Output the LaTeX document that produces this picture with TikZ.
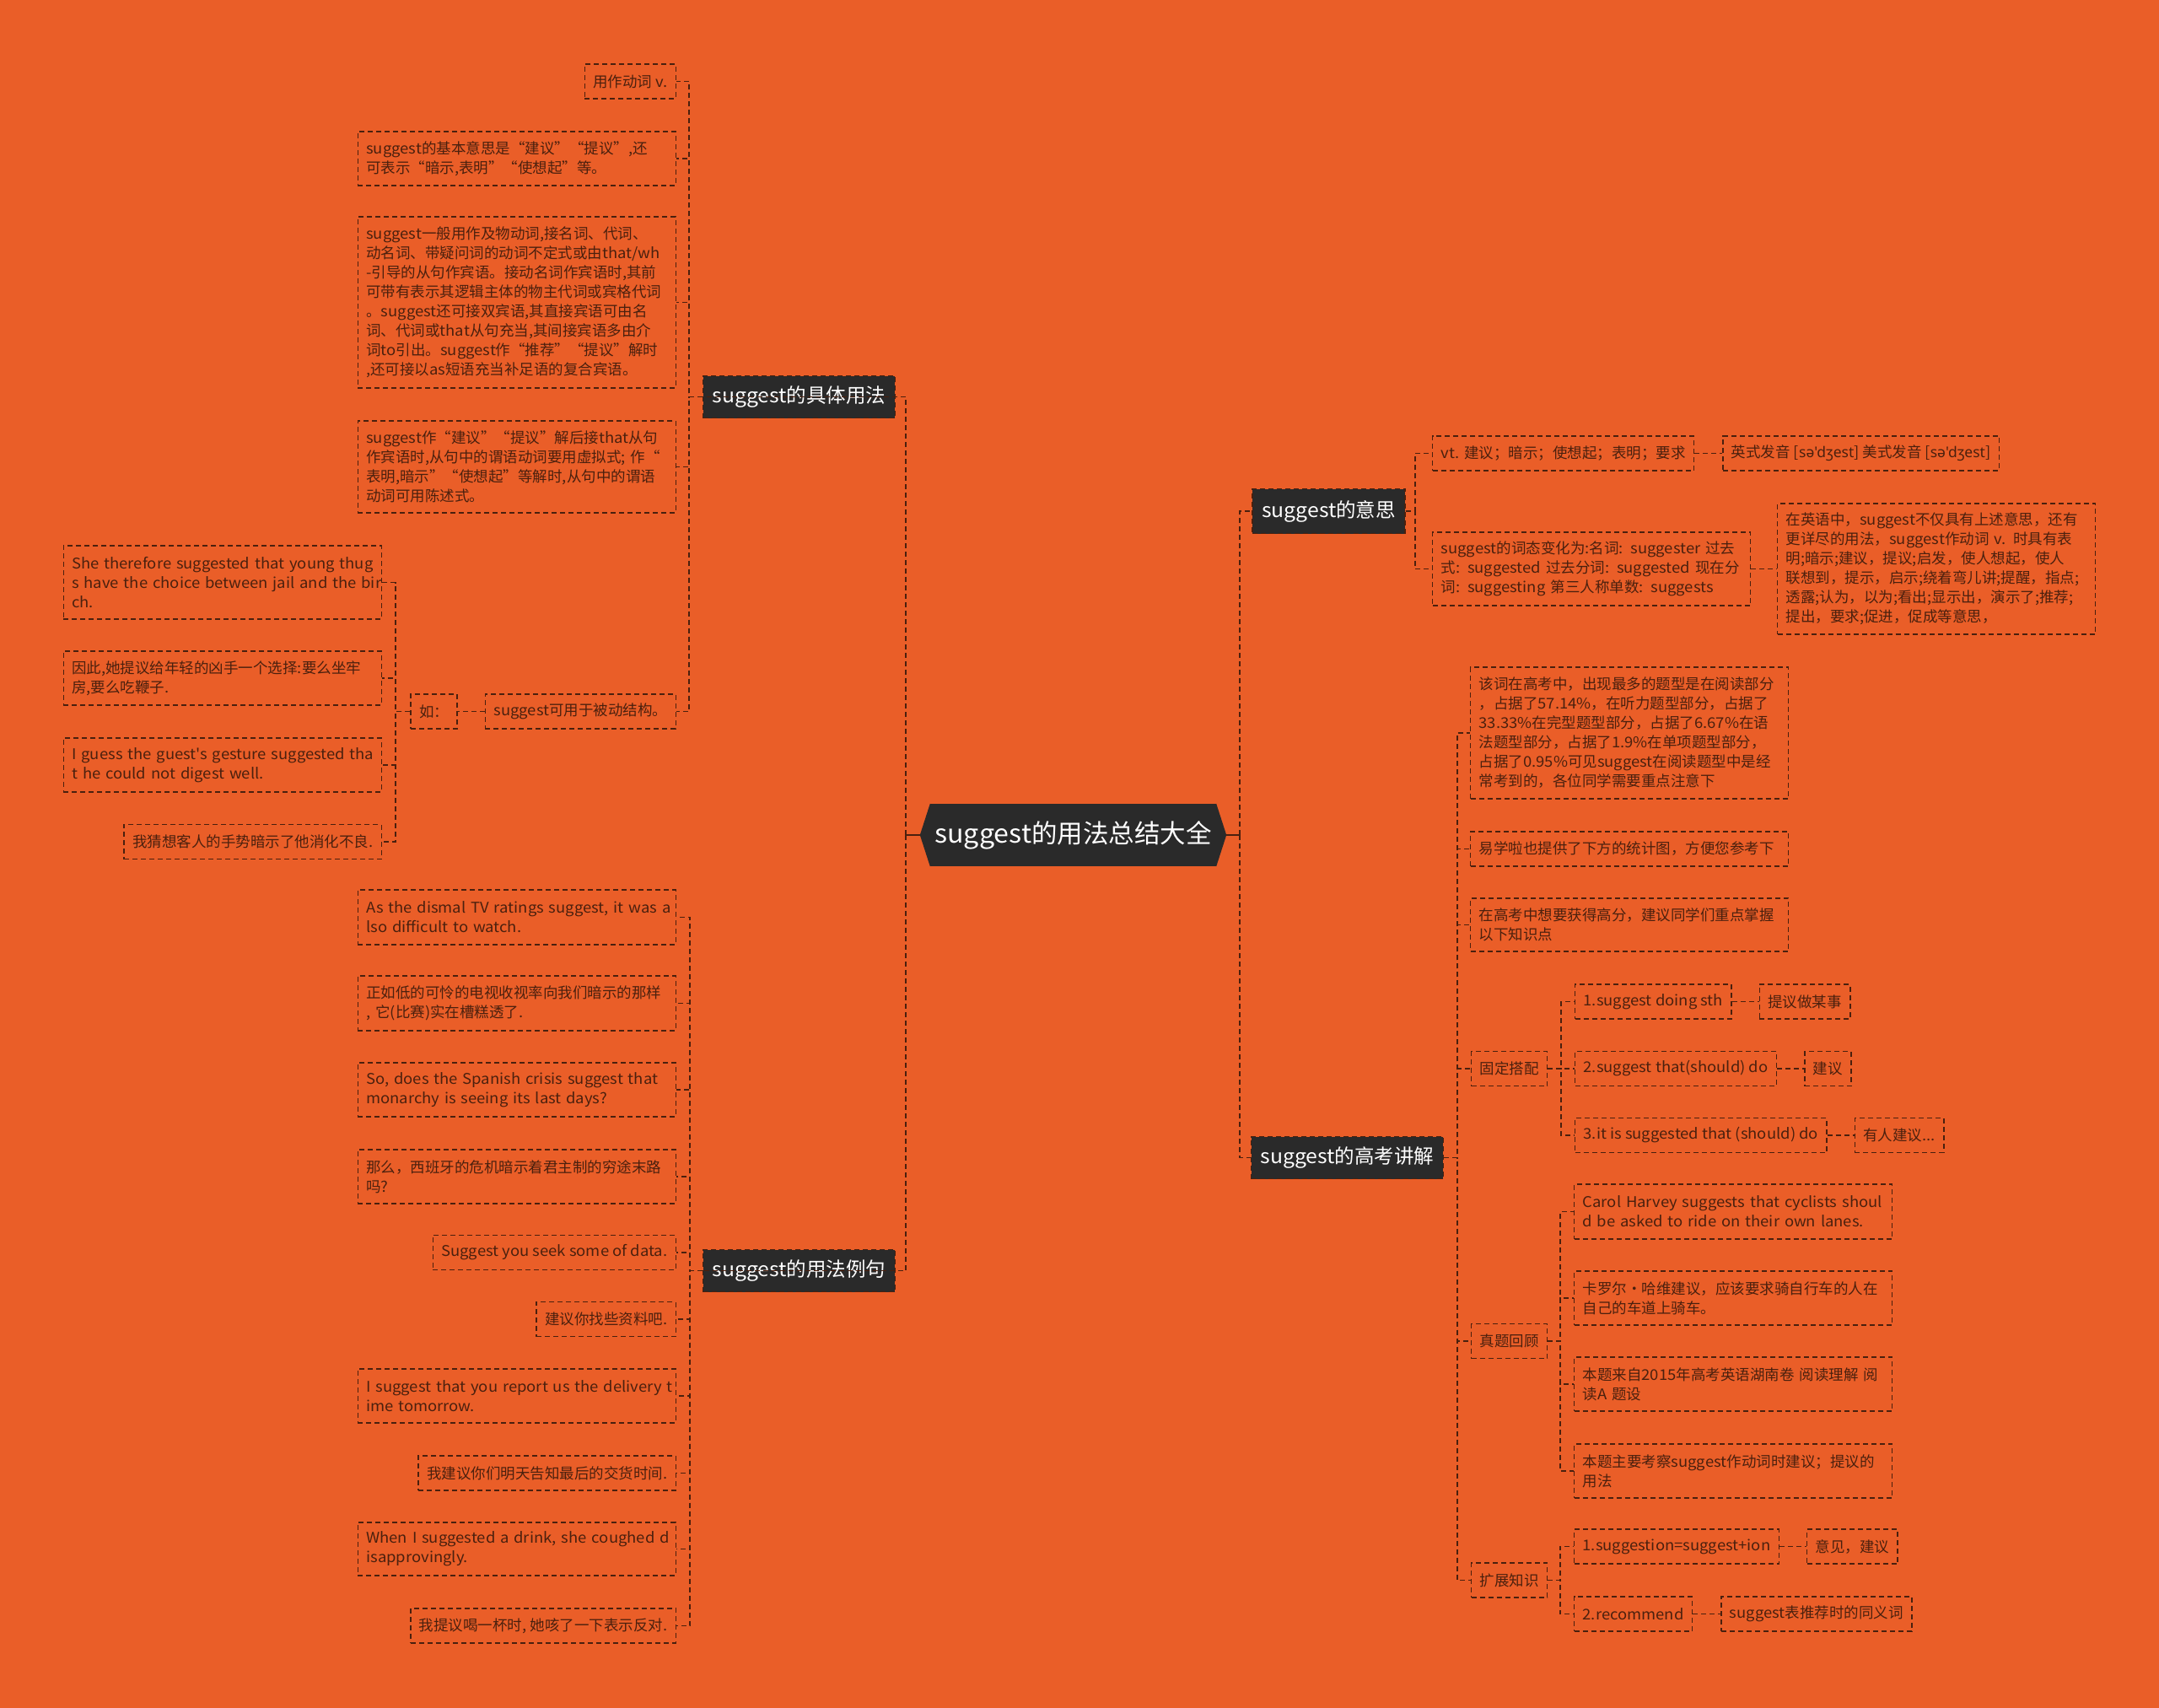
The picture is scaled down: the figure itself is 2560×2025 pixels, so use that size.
\documentclass[tikz,border=0pt]{standalone}
\usepackage{fontspec}
\setmainfont{Noto Sans CJK SC}
\newfontfamily\cjkfont{Noto Sans CJK SC}
\newfontfamily\latfont{Noto Sans CJK SC}[FakeStretch=1.055]
\newfontfamily\ipafont{Noto Sans}
\XeTeXinterchartokenstate=1
\newXeTeXintercharclass\CJKcls
\newcount\cc
\cc="3000 \loop\ifnum\cc<"3040 \XeTeXcharclass\cc=\CJKcls \advance\cc by 1 \repeat
\cc="4E00 \loop\ifnum\cc<"A000 \XeTeXcharclass\cc=\CJKcls \advance\cc by 1 \repeat
\cc="FF00 \loop\ifnum\cc<"FFF0 \XeTeXcharclass\cc=\CJKcls \advance\cc by 1 \repeat
\XeTeXcharclass"201C=\CJKcls
\XeTeXcharclass"201D=\CJKcls
\XeTeXcharclass"00B7=\CJKcls
\XeTeXinterchartoks 0 \CJKcls = {\cjkfont}
\XeTeXinterchartoks 4095 \CJKcls = {\cjkfont}
\XeTeXinterchartoks \CJKcls 0 = {\latfont}
\XeTeXinterchartoks 4095 0 = {\latfont}
\newcommand\nb[1]{\mbox{#1}}
\newcommand\ipa[1]{{\XeTeXinterchartokenstate=0 \ipafont #1}}
\usetikzlibrary{positioning}
\definecolor{bg}{HTML}{EA5E28}
\definecolor{ink}{HTML}{4A200E}
\definecolor{dark}{HTML}{2A2A2A}
\begin{document}
\begin{tikzpicture}[x=1pt,y=-1pt,
  conn/.style={draw=ink, line width=1.4pt, dash pattern=on 6pt off 4pt},
  leaf/.style={draw=ink, line width=1.4pt, dash pattern=on 6pt off 4pt, text=ink,
    font=\latfont\fontsize{17.5}{23}\selectfont, align=left, inner xsep=10pt, inner ysep=5pt, minimum height=41pt},
  wide/.style={leaf, text width=357pt},
  mainbox/.style={fill=dark, draw=ink, line width=1.2pt, dash pattern=on 6pt off 4pt, text=white,
    font=\latfont\fontsize{23.5}{28}\selectfont, inner xsep=11pt, minimum height=50pt},
  rootbox/.style={fill=dark, text=white, font=\latfont\fontsize{30.5}{34}\selectfont, inner sep=0pt,
    minimum width=339pt, minimum height=74pt}]
\useasboundingbox (0,0) rectangle (2560,2025);
\fill[bg] (0,0) rectangle (2560,2025);

% root
\node[rootbox] (root) at (1272.5,990) {suggest的用法总结大全};
\fill[dark] (root.north west) -- ([xshift=-12pt]root.west) -- (root.south west) -- cycle;
\fill[dark] (root.north east) -- ([xshift=12pt]root.east) -- (root.south east) -- cycle;
\coordinate (rL) at ([xshift=-12pt]root.west);
\coordinate (rR) at ([xshift=12pt]root.east);

% vertical positions
\coordinate (vL) at (1074,0);
\coordinate (vR) at (1470,0);
\coordinate (v1) at (817,0);
\coordinate (v2) at (818,0);
\coordinate (vE) at (469,0);
\coordinate (vB) at (1678,0);
\coordinate (vC) at (1728,0);
\coordinate (vF) at (1851,0);
\coordinate (vZ) at (1850,0);
\coordinate (vK) at (1850,0);

% level 1
\node[mainbox, minimum width=227pt] (L1a) at (947.5,470.5) {suggest的具体用法};
\node[mainbox, minimum width=227pt] (L1b) at (947.5,1506.5) {suggest的用法例句};
\node[mainbox, minimum width=179pt, minimum height=53pt] (R1a) at (1575.5,606) {suggest的意思};
\node[mainbox, minimum width=223pt] (R1b) at (1597.5,1372.5) {suggest的高考讲解};

\draw[ink, line width=1.4pt] (rL) -- (rL -| vL);
\draw[ink, line width=1.4pt] (rR) -- (rR -| vR);
\draw[conn] (rL -| vL) |- (L1a.west);
\draw[conn] (rL -| vL) |- (L1b.west);
\draw[conn] (rR -| vR) |- (R1a.west);
\draw[conn] (rR -| vR) |- (R1b.west);

% ---------- left upper
\node[leaf, anchor=east] (a1) at (802,96.5) {用作动词 v.};
\node[wide, anchor=east, minimum height=64pt] (a2) at (802,188) {\nb{suggest的基本意思是“建议”“提议”,还}\\\nb{可表示“暗示,表明”“使想起”等。}};
\node[wide, anchor=east, minimum height=203pt] (a3) at (802,358.5) {\nb{suggest一般用作及物动词,接名词、代词、}\\\nb{动名词、带疑问词的动词不定式或由that/wh}\\\nb{-引导的从句作宾语。接动名词作宾语时,其前}\\\nb{可带有表示其逻辑主体的物主代词或宾格代词}\\\nb{。suggest还可接双宾语,其直接宾语可由名}\\\nb{词、代词或that从句充当,其间接宾语多由介}\\\nb{词to引出。suggest作“推荐”“提议”解时}\\\nb{,还可接以as短语充当补足语的复合宾语。}};
\node[wide, anchor=east, minimum height=109pt] (a4) at (802,553.5) {\nb{suggest作“建议”“提议”解后接that从句}\\\nb{作宾语时,从句中的谓语动词要用虚拟式; 作“}\\\nb{表明,暗示”“使想起”等解时,从句中的谓语}\\\nb{动词可用陈述式。}};
\node[leaf, anchor=east] (a5) at (802,843.5) {suggest可用于被动结构。};
\node[leaf, left=32pt of a5] (a6) {如：};
\node[wide, anchor=east, minimum height=87pt] (e1) at (453,690.5) {\nb{She therefore suggested that young thug}\\\nb{s have the choice between jail and the bir}\\\nb{ch.}};
\node[wide, anchor=east, minimum height=64pt] (e2) at (453,804) {\nb{因此,她提议给年轻的凶手一个选择:要么坐牢}\\\nb{房,要么吃鞭子.}};
\node[wide, anchor=east, minimum height=64pt] (e3) at (453,907) {\nb{I guess the guest's gesture suggested tha}\\\nb{t he could not digest well.}};
\node[leaf, anchor=east] (e4) at (453,998) {我猜想客人的手势暗示了他消化不良.};

\foreach \c in {a1,a2,a3,a4,a5}{\draw[conn] (L1a.west) -- (L1a.west -| v1) |- (\c.east);}
\draw[conn] (a5.west) -- (a6.east);
\foreach \c in {e1,e2,e3,e4}{\draw[conn] (a6.west) -- (a6.west -| vE) |- (\c.east);}

% ---------- left lower
\node[wide, anchor=east, minimum height=65pt] (d1) at (802,1087.5) {\nb{As the dismal TV ratings suggest, it was a}\\\nb{lso difficult to watch.}};
\node[wide, anchor=east, minimum height=65pt] (d2) at (802,1189.5) {\nb{正如低的可怜的电视收视率向我们暗示的那样}\\\nb{, 它(比赛)实在槽糕透了.}};
\node[wide, anchor=east, minimum height=64pt] (d3) at (802,1292) {\nb{So, does the Spanish crisis suggest that}\\\nb{monarchy is seeing its last days?}};
\node[wide, anchor=east, minimum height=64pt] (d4) at (802,1395) {\nb{那么，西班牙的危机暗示着君主制的穷途末路}\\\nb{吗?}};
\node[leaf, anchor=east] (d5) at (802,1485) {Suggest you seek some of data.};
\node[leaf, anchor=east] (d6) at (802,1564) {建议你找些资料吧.};
\node[wide, anchor=east, minimum height=64pt] (d7) at (802,1655) {\nb{I suggest that you report us the delivery t}\\\nb{ime tomorrow.}};
\node[leaf, anchor=east] (d8) at (802,1746.5) {我建议你们明天告知最后的交货时间.};
\node[wide, anchor=east, minimum height=63pt] (d9) at (802,1836.5) {\nb{When I suggested a drink, she coughed d}\\\nb{isapprovingly.}};
\node[leaf, anchor=east] (d10) at (802,1927.5) {我提议喝一杯时, 她咳了一下表示反对.};
\foreach \c in {d1,d2,d3,d4,d5,d6,d7,d8,d9,d10}{\draw[conn] (L1b.west) -- (L1b.west -| v2) |- (\c.east);}

% ---------- right: meaning
\node[leaf, anchor=west] (b1) at (1698,537.5) {vt. 建议；暗示；使想起；表明；要求};
\node[leaf, right=33pt of b1] (b2) {英式发音 [\ipa{sə'dʒest}] 美式发音 [\ipa{sə'dʒest}]};
\node[wide, anchor=west, minimum height=87pt] (b3) at (1698,674.5) {\nb{suggest的词态变化为:名词: suggester 过去}\\\nb{式: suggested 过去分词: suggested 现在分}\\\nb{词: suggesting 第三人称单数: suggests}};
\node[wide, anchor=west, minimum height=155pt] (b4) at (2107,674.5) {\nb{在英语中，suggest不仅具有上述意思，还有}\\\nb{更详尽的用法，suggest作动词 v. 时具有表}\\\nb{明;暗示;建议，提议;启发，使人想起，使人}\\\nb{联想到，提示，启示;绕着弯儿讲;提醒，指点;}\\\nb{透露;认为，以为;看出;显示出，演示了;推荐;}\\\nb{提出，要求;促进，促成等意思，}};
\foreach \c in {b1,b3}{\draw[conn] (R1a.east) -- (R1a.east -| vB) |- (\c.west);}
\draw[conn] (b1.east) -- (b2.west);
\draw[conn] (b3.east) -- (b4.west);

% ---------- right: exam
\node[wide, anchor=west, minimum height=156pt] (c1) at (1743,869) {\nb{该词在高考中，出现最多的题型是在阅读部分}\\\nb{，占据了57.14\%，在听力题型部分，占据了}\\\nb{33.33\%在完型题型部分，占据了6.67\%在语}\\\nb{法题型部分，占据了1.9\%在单项题型部分，}\\\nb{占据了0.95\%可见suggest在阅读题型中是经}\\\nb{常考到的，各位同学需要重点注意下}};
\node[wide, anchor=west] (c2) at (1743,1006.5) {\nb{易学啦也提供了下方的统计图，方便您参考下}};
\node[wide, anchor=west, minimum height=63pt] (c3) at (1743,1096.5) {\nb{在高考中想要获得高分，建议同学们重点掌握}\\\nb{以下知识点}};
\node[leaf, anchor=west] (c4) at (1744,1267) {固定搭配};
\node[leaf, anchor=west] (c5) at (1744,1590) {真题回顾};
\node[leaf, anchor=west] (c6) at (1744,1873.5) {扩展知识};
\foreach \c in {c1,c2,c3,c4,c5,c6}{\draw[conn] (R1b.east) -- (R1b.east -| vC) |- (\c.west);}

\node[leaf, anchor=west] (f1) at (1867,1187.5) {1.suggest doing sth};
\node[leaf, right=32pt of f1] (f1r) {提议做某事};
\node[leaf, anchor=west] (f2) at (1867,1267) {2.suggest that(should) do};
\node[leaf, right=32pt of f2] (f2r) {建议};
\node[leaf, anchor=west] (f3) at (1867,1346) {3.it is suggested that (should) do};
\node[leaf, right=32pt of f3] (f3r) {有人建议...};
\foreach \c in {f1,f2,f3}{\draw[conn] (c4.east) -- (c4.east -| vF) |- (\c.west);}
\draw[conn] (f1.east) -- (f1r.west);
\draw[conn] (f2.east) -- (f2r.west);
\draw[conn] (f3.east) -- (f3r.west);

\node[wide, anchor=west, minimum height=65pt] (z1) at (1866,1436.5) {\nb{Carol Harvey suggests that cyclists shoul}\\\nb{d be asked to ride on their own lanes.}};
\node[wide, anchor=west, minimum height=64pt] (z2) at (1866,1539) {\nb{卡罗尔·哈维建议，应该要求骑自行车的人在}\\\nb{自己的车道上骑车。}};
\node[wide, anchor=west, minimum height=64pt] (z3) at (1866,1641) {\nb{本题来自2015年高考英语湖南卷 阅读理解 阅}\\\nb{读A 题设}};
\node[wide, anchor=west, minimum height=64pt] (z4) at (1866,1744) {\nb{本题主要考察suggest作动词时建议；提议的}\\\nb{用法}};
\foreach \c in {z1,z2,z3,z4}{\draw[conn] (c5.east) -- (c5.east -| vZ) |- (\c.west);}

\node[leaf, anchor=west] (k1) at (1866,1833.5) {1.suggestion=suggest+ion};
\node[leaf, right=32pt of k1] (k1r) {意见，建议};
\node[leaf, anchor=west] (k2) at (1866,1913.5) {2.recommend};
\node[leaf, right=33pt of k2] (k2r) {suggest表推荐时的同义词};
\foreach \c in {k1,k2}{\draw[conn] (c6.east) -- (c6.east -| vK) |- (\c.west);}
\draw[conn] (k1.east) -- (k1r.west);
\draw[conn] (k2.east) -- (k2r.west);
\end{tikzpicture}
\end{document}
